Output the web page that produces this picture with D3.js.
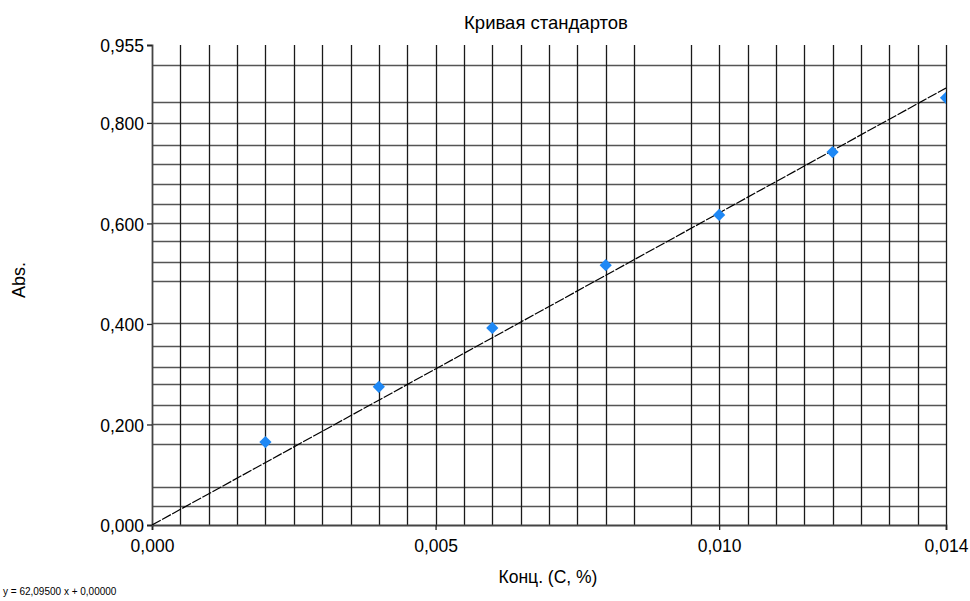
<!DOCTYPE html>
<html>
<head>
<meta charset="utf-8">
<script src="https://cdn.jsdelivr.net/npm/d3@7"></script>
<style>
  body { margin: 0; background: #fff; }
  svg text { font-family: "Liberation Sans", Arial, sans-serif; fill: #000; }
</style>
</head>
<body>
<div id="chart"></div>
<script>
// calibration standards
const concentrations = [0.002, 0.004, 0.006, 0.008, 0.010, 0.012, 0.014];
const absorbances = [0.165, 0.275, 0.392, 0.517, 0.617, 0.742, 0.850];

// fitted line y = 62,095 x + 0
const slope = 62.095;
const intercept = 0;

const xTicks = [0, 0.005, 0.010, 0.014];
const xTickLabels = ["0,000", "0,005", "0,010", "0,014"];
const yTicks = [0, 0.2, 0.4, 0.6, 0.8, 0.955];
const yTickLabels = ["0,000", "0,200", "0,400", "0,600", "0,800", "0,955"];

// grid lines as drawn by the instrument software (irregular)
const xGrid = [0.0005, 0.001, 0.0015, 0.002, 0.0025, 0.003, 0.0035, 0.004, 0.0045,
  0.005, 0.0055, 0.006, 0.0065, 0.007, 0.0075, 0.008, 0.0085, 0.0095,
  0.010, 0.0105, 0.011, 0.0115, 0.012, 0.0125, 0.013, 0.0135, 0.014];
const yGrid = [0.038, 0.076, 0.161, 0.201, 0.239, 0.281, 0.314, 0.357, 0.401,
  0.485, 0.523, 0.565, 0.600, 0.639, 0.678, 0.718, 0.757, 0.800, 0.841, 0.915];

const chartTitle = "Кривая стандартов";
const xLabel = "Конц. (С, %)";
const yLabel = "Abs.";
const equation = "y = 62,09500 x + 0,00000";

const width = 970, height = 601;
const margin = { top: 45, right: 24, bottom: 76, left: 152 };
const innerW = width - margin.left - margin.right;
const innerH = height - margin.top - margin.bottom;

const svg = d3.select("#chart").append("svg")
  .attr("width", width)
  .attr("height", height);

const x = d3.scaleLinear().domain([0, 0.014]).range([0, innerW]);
const y = d3.scaleLinear().domain([0, 0.955]).range([innerH, 0]);

svg.append("defs").append("clipPath").attr("id", "plot-clip")
  .append("rect").attr("width", innerW).attr("height", innerH);

const g = svg.append("g")
  .attr("transform", `translate(${margin.left},${margin.top})`);

// grid
g.append("g").selectAll("line")
  .data(yGrid)
  .join("line")
  .attr("x1", 0).attr("x2", innerW)
  .attr("y1", d => Math.round(y(d)) + 0.5)
  .attr("y2", d => Math.round(y(d)) + 0.5)
  .attr("stroke", "#555")
  .attr("stroke-width", 1.6);

g.append("g").selectAll("line")
  .data(xGrid)
  .join("line")
  .attr("x1", d => Math.round(x(d)) + 0.5)
  .attr("x2", d => Math.round(x(d)) + 0.5)
  .attr("y1", 0).attr("y2", innerH)
  .attr("stroke", "#1a1a1a")
  .attr("stroke-width", 1.3);

// axes
const xAxis = d3.axisBottom(x)
  .tickValues(xTicks)
  .tickFormat((d, i) => xTickLabels[i])
  .tickSize(5)
  .tickPadding(10);
const yAxis = d3.axisLeft(y)
  .tickValues(yTicks)
  .tickFormat((d, i) => yTickLabels[i])
  .tickSize(5)
  .tickPadding(3);

const xAxisG = g.append("g")
  .attr("transform", `translate(0,${innerH})`)
  .call(xAxis);
const yAxisG = g.append("g").call(yAxis);

[xAxisG, yAxisG].forEach(a => {
  a.select(".domain").attr("stroke", "#444").attr("stroke-width", 1.8);
  a.selectAll(".tick line").attr("stroke", "#222").attr("stroke-width", 1.3);
  a.selectAll(".tick text")
    .attr("fill", "#000")
    .style("font-size", "17.5px")
    .style("font-family", "'Liberation Sans', Arial, sans-serif");
});
yAxisG.selectAll(".tick text").attr("dy", "0.38em");

// regression line
const plot = g.append("g").attr("clip-path", "url(#plot-clip)");
const fitLine = d3.line()
  .x(d => x(d))
  .y(d => y(slope * d + intercept));
plot.append("path")
  .datum([0, 0.014])
  .attr("d", fitLine)
  .attr("fill", "none")
  .attr("stroke", "#000")
  .attr("stroke-width", 1.2)
  .attr("stroke-dasharray", "10,1.5");

// standards
plot.selectAll(".pt")
  .data(concentrations.map((c, i) => ({ c, a: absorbances[i] })))
  .join("path")
  .attr("class", "pt")
  .attr("d", d3.symbol(d3.symbolDiamond2, 95))
  .attr("transform", d => `translate(${x(d.c)},${y(d.a)})`)
  .attr("fill", "#1e88f5");

// texts
svg.append("text")
  .attr("x", 546).attr("y", 29)
  .attr("text-anchor", "middle")
  .style("font-size", "18.5px")
  .text(chartTitle);

svg.append("text")
  .attr("x", 548).attr("y", 583)
  .attr("text-anchor", "middle")
  .style("font-size", "17.5px")
  .text(xLabel);

svg.append("text")
  .attr("transform", "translate(25,280) rotate(-90)")
  .attr("text-anchor", "middle")
  .style("font-size", "18px")
  .text(yLabel);

svg.append("text")
  .attr("x", 3).attr("y", 595)
  .style("font-size", "10px")
  .text(equation);
</script>
</body>
</html>
